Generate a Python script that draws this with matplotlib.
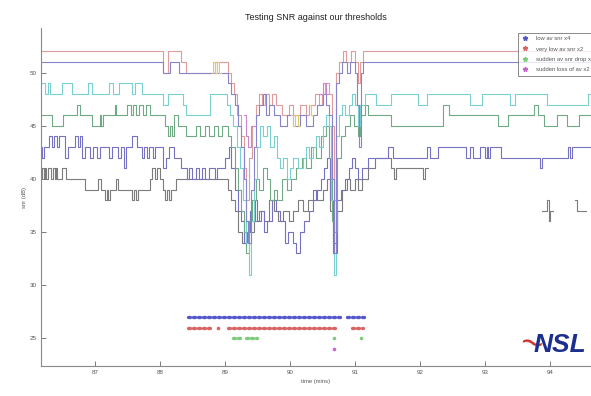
import numpy as np
import matplotlib.pyplot as plt
from matplotlib.lines import Line2D

plt.rcParams['font.family'] = ['Liberation Sans', 'DejaVu Sans']

nan = np.nan
T0, T1 = 86.17, 94.63

# snr traces, step breakpoints: (time mins, snr dB)
gray = [(86.17, 40), (86.19, 41), (86.21, 40), (86.23, 41), (86.25, 40), (86.27, 41), (86.33, 40),
        (86.35, 41), (86.38, 40), (86.40, 41), (86.42, 40), (86.50, 41), (86.55, 40), (86.85, 39),
        (87.05, 40), (87.10, 39), (87.15, 38), (87.18, 39), (87.20, 38), (87.23, 39), (87.33, 40),
        (87.36, 39), (87.57, 38), (87.60, 39), (87.63, 38), (87.66, 39), (87.85, 40), (87.88, 41),
        (87.92, 40), (87.95, 41), (88.00, 40), (88.05, 39), (88.08, 38), (88.11, 39), (88.14, 38),
        (88.17, 39), (88.25, 40), (89.05, 39), (89.10, 38), (89.15, 37), (89.20, 35), (89.26, 34),
        (89.32, 36), (89.38, 35), (89.45, 36), (89.52, 37), (89.60, 36), (89.68, 38), (89.75, 37),
        (89.82, 36), (89.90, 37), (89.98, 36), (90.05, 37), (90.12, 38), (90.20, 37), (90.28, 38),
        (90.35, 39), (90.42, 38), (90.50, 39), (90.57, 40), (90.62, 37), (90.66, 34), (90.72, 37),
        (90.80, 39), (90.87, 40), (90.93, 39), (91.00, 40), (91.05, 39), (91.10, 40), (91.20, 41),
        (91.30, 42), (91.55, 41), (91.60, 40), (91.63, 41), (92.05, 40), (92.08, 41), (92.12, nan),
        (93.88, 37), (93.96, 38), (93.98, 36), (94.00, 37), (94.05, nan), (94.38, 38), (94.41, 37),
        (94.55, nan), (94.63, nan)]

navy = [(86.17, 43), (86.19, 42), (86.22, 43), (86.30, 44), (86.34, 43), (86.37, 44), (86.42, 43),
        (86.45, 44), (86.54, 42), (86.58, 43), (86.69, 44), (86.74, 43), (86.77, 44), (86.80, 42),
        (86.84, 43), (86.93, 42), (86.97, 43), (87.03, 42), (87.07, 43), (87.22, 42), (87.26, 43),
        (87.35, 42), (87.40, 43), (87.44, 41), (87.47, 43), (87.57, 44), (87.65, 43), (87.72, 42),
        (87.75, 43), (87.80, 42), (87.83, 43), (87.90, 42), (87.93, 43), (88.05, 41), (88.10, 42),
        (88.14, 43), (88.22, 42), (88.33, 41), (88.42, 40), (88.45, 41), (88.50, 40), (88.55, 41),
        (88.60, 40), (88.65, 41), (88.70, 40), (88.75, 41), (88.85, 40), (88.88, 41), (89.00, 42),
        (89.06, 43), (89.10, 41), (89.15, 39), (89.20, 37), (89.25, 36), (89.30, 34), (89.34, 35),
        (89.38, 37), (89.42, 36), (89.46, 38), (89.50, 36), (89.55, 37), (89.60, 35), (89.65, 36),
        (89.72, 38), (89.78, 37), (89.85, 36), (89.92, 34), (89.97, 35), (90.05, 34), (90.10, 33),
        (90.15, 35), (90.22, 36), (90.30, 37), (90.35, 38), (90.40, 39), (90.47, 40), (90.52, 41),
        (90.57, 42), (90.62, 38), (90.66, 33), (90.72, 38), (90.78, 39), (90.84, 40), (90.90, 41),
        (90.96, 42), (91.00, 41), (91.05, 40), (91.10, 41), (91.20, 42), (91.50, 43), (91.58, 42),
        (92.10, 43), (92.15, 42), (92.28, 43), (92.70, 42), (92.77, 43), (92.82, 42), (92.92, 43),
        (93.00, 42), (93.03, 43), (93.05, 42), (93.08, 43), (93.25, 42), (93.84, 41), (93.88, 42),
        (94.28, 43), (94.31, 42), (94.34, 43), (94.63, 43)]

green = [(86.17, 46), (86.34, 45), (86.51, 46), (86.72, 47), (86.77, 46), (86.95, 45), (87.08, 46),
         (87.10, 45), (87.13, 46), (87.31, 47), (87.33, 46), (87.50, 47), (87.55, 46), (87.58, 47),
         (87.63, 46), (87.68, 47), (87.74, 46), (87.78, 47), (87.85, 46), (88.08, 45), (88.12, 44),
         (88.15, 45), (88.18, 44), (88.21, 46), (88.28, 45), (88.40, 44), (88.55, 45), (88.62, 44),
         (88.70, 45), (88.76, 44), (88.83, 45), (88.90, 44), (88.95, 45), (89.05, 44), (89.10, 43),
         (89.15, 41), (89.20, 39), (89.25, 37), (89.30, 35), (89.33, 33), (89.37, 36), (89.42, 38),
         (89.47, 40), (89.52, 39), (89.58, 41), (89.65, 40), (89.70, 38), (89.75, 39), (89.80, 38),
         (89.88, 40), (89.95, 39), (90.02, 40), (90.10, 41), (90.18, 42), (90.25, 41), (90.33, 43),
         (90.40, 42), (90.47, 44), (90.55, 45), (90.60, 42), (90.64, 36), (90.68, 35), (90.72, 42),
         (90.78, 44), (90.85, 45), (90.92, 46), (90.98, 45), (91.04, 44), (91.08, 46), (91.15, 47),
         (91.20, 46), (91.55, 45), (92.35, 47), (92.45, 46), (93.20, 45), (93.35, 46), (93.75, 47),
         (93.82, 46), (93.90, 45), (94.10, 46), (94.26, 45), (94.45, 46), (94.63, 46)]

cyan = [(86.17, 49), (86.23, 48), (86.27, 49), (86.31, 48), (86.50, 49), (86.64, 48), (86.90, 49),
        (86.96, 48), (87.22, 49), (87.28, 48), (87.37, 49), (87.57, 48), (87.62, 49), (87.72, 48),
        (88.05, 47), (88.12, 48), (88.35, 47), (88.40, 46), (88.77, 48), (89.03, 47), (89.08, 46),
        (89.13, 45), (89.18, 43), (89.23, 41), (89.28, 38), (89.33, 34), (89.37, 31), (89.40, 36),
        (89.44, 40), (89.49, 43), (89.54, 45), (89.59, 44), (89.64, 45), (89.70, 43), (89.75, 44),
        (89.80, 42), (89.85, 41), (89.90, 42), (89.95, 40), (90.00, 41), (90.05, 42), (90.12, 41),
        (90.20, 42), (90.25, 43), (90.30, 42), (90.35, 43), (90.40, 44), (90.45, 43), (90.50, 45),
        (90.55, 46), (90.60, 45), (90.63, 38), (90.67, 31), (90.70, 44), (90.75, 46), (90.80, 47),
        (90.85, 46), (90.90, 47), (90.95, 48), (91.00, 47), (91.05, 45), (91.08, 47), (91.15, 48),
        (91.33, 47), (91.55, 48), (91.97, 47), (92.10, 48), (92.77, 47), (92.95, 48), (93.38, 47),
        (93.46, 48), (93.95, 47), (94.58, 48), (94.63, 48)]

red = [(86.17, 52), (88.05, 50), (88.13, 52), (88.33, 51), (88.40, 50), (88.85, 51), (89.05, 50),
       (89.10, 49), (89.14, 48), (89.19, 46), (89.24, 44), (89.29, 41), (89.33, 38), (89.37, 42),
       (89.42, 45), (89.47, 47), (89.52, 48), (89.57, 47), (89.61, 48), (89.68, 47), (89.73, 48),
       (89.79, 47), (89.87, 46), (89.98, 47), (90.05, 46), (90.15, 47), (90.24, 46), (90.30, 47),
       (90.38, 48), (90.44, 47), (90.49, 48), (90.54, 49), (90.60, 48), (90.64, 45), (90.67, 38),
       (90.71, 50), (90.75, 51), (90.81, 52), (90.86, 51), (90.94, 52), (91.00, 51), (91.04, 49),
       (91.08, 51), (91.12, 52), (94.63, 52)]

purple = [(86.17, 51), (88.05, 50), (88.15, 51), (88.30, 50), (89.05, 49), (89.10, 48), (89.15, 47),
          (89.20, 45), (89.25, 43), (89.29, 40), (89.33, 36), (89.36, 34), (89.40, 39), (89.44, 43),
          (89.48, 46), (89.53, 47), (89.58, 48), (89.63, 46), (89.68, 47), (89.75, 46), (89.85, 45),
          (89.95, 46), (90.05, 45), (90.15, 46), (90.25, 45), (90.35, 46), (90.42, 47), (90.50, 48),
          (90.56, 47), (90.60, 46), (90.64, 40), (90.67, 33), (90.71, 49), (90.75, 50), (90.80, 51),
          (90.88, 50), (90.93, 51), (91.00, 50), (91.03, 47), (91.06, 43), (91.09, 50), (91.12, 51),
          (94.63, 51)]

yellow = [(88.80, 50), (88.82, 51), (88.85, 50), (88.88, 51), (88.91, 50), (88.94, nan),
          (90.02, 46), (90.05, 45), (90.08, 46), (90.12, 45), (90.15, nan),
          (90.30, 47), (90.33, 46), (90.36, nan)]

magenta = [(89.30, 46), (89.33, 44), (89.36, 43), (89.40, 45), (89.45, nan),
           (90.45, 48), (90.50, 49), (90.55, 48), (90.58, nan)]

# threshold detections: runs of flagged samples (start, end)
det_low = [(88.43, 90.77), (90.88, 91.18)]
det_vlow = [(88.43, 88.77), (88.90, 88.90), (89.05, 90.73), (90.95, 91.12)]
det_drop = [(89.12, 89.27), (89.33, 89.50), (90.68, 90.68), (91.09, 91.09)]
det_loss = [(90.68, 90.68)]
det_levels = [27, 26, 25, 24]
det_labels = ['low av snr x4', 'very low av snr x2', 'sudden av snr drop x2', 'sudden loss of av x2']
det_colors = ['#5558cc', '#d86464', '#7ccc7c', '#c466cc']

fig = plt.figure(figsize=(5.91, 3.96), dpi=100)
ax = fig.add_axes([41 / 591, 30 / 396, 550 / 591, 338 / 396])


def trace(pts, color):
    t, v = zip(*pts)
    ax.plot(t, v, color=color, lw=0.8, drawstyle='steps-post')


trace(gray, '#7c7c7c')
trace(navy, '#7672c2')
trace(green, '#70aa84')
trace(cyan, '#7ad0d0')
trace(red, '#e09c9c')
trace(purple, '#8884cc')
trace(yellow, '#dccc66')
trace(magenta, '#cc84cc')

for runs, lev, col in zip([det_low, det_vlow, det_drop, det_loss], det_levels, det_colors):
    for a, b in runs:
        if b > a:
            ax.plot([a, b], [lev, lev], color=col, lw=2.4,
                    linestyle=(0, (0.6, 0.9)), dash_capstyle='round')
        else:
            ax.plot([a], [lev], 'o', color=col, ms=2.6, mec='none')

ax.set_xlim(T0, T1)
ax.set_ylim(22.4, 54.2)
ax.set_xticks(range(87, 95))
ax.set_yticks(range(25, 51, 5))
ax.tick_params(direction='in', length=3.5, width=0.6, labelsize=4.5,
               colors='#666666', labelcolor='#555555', pad=3)
for s in ['top', 'right']:
    ax.spines[s].set_visible(False)
for s in ['left', 'bottom']:
    ax.spines[s].set_color('#8a8a8a')
    ax.spines[s].set_linewidth(0.8)

ax.set_title('Testing SNR against our thresholds', fontsize=6.5, color='#222222', pad=6)
ax.set_xlabel('time (mins)', fontsize=4.2, color='#555555', labelpad=3)
ax.set_ylabel('snr (dB)', fontsize=4.2, color='#555555', labelpad=2)

handles = [Line2D([], [], ls='none', marker='*', ms=3.5, color=c) for c in det_colors]
leg = ax.legend(handles, det_labels, loc='upper left', bbox_to_anchor=(0.862, 0.995),
                fontsize=4.2, frameon=True, fancybox=False, edgecolor='#555555',
                handlelength=1.2, labelspacing=0.9, borderpad=0.6, handletextpad=1.2)
leg.get_frame().set_linewidth(0.6)
for tx in leg.get_texts():
    tx.set_color('#555555')

# logo
fig.text(0.872, 0.128, '\u223c', color='#c8302c', fontsize=22, va='center', ha='left',
         rotation=-15, family='DejaVu Sans')
fig.text(0.902, 0.128, 'NSL', color='#1c2f8e', fontsize=19, fontweight='heavy',
         style='italic', va='center', ha='left')

fig.savefig('out.png', dpi=100)
